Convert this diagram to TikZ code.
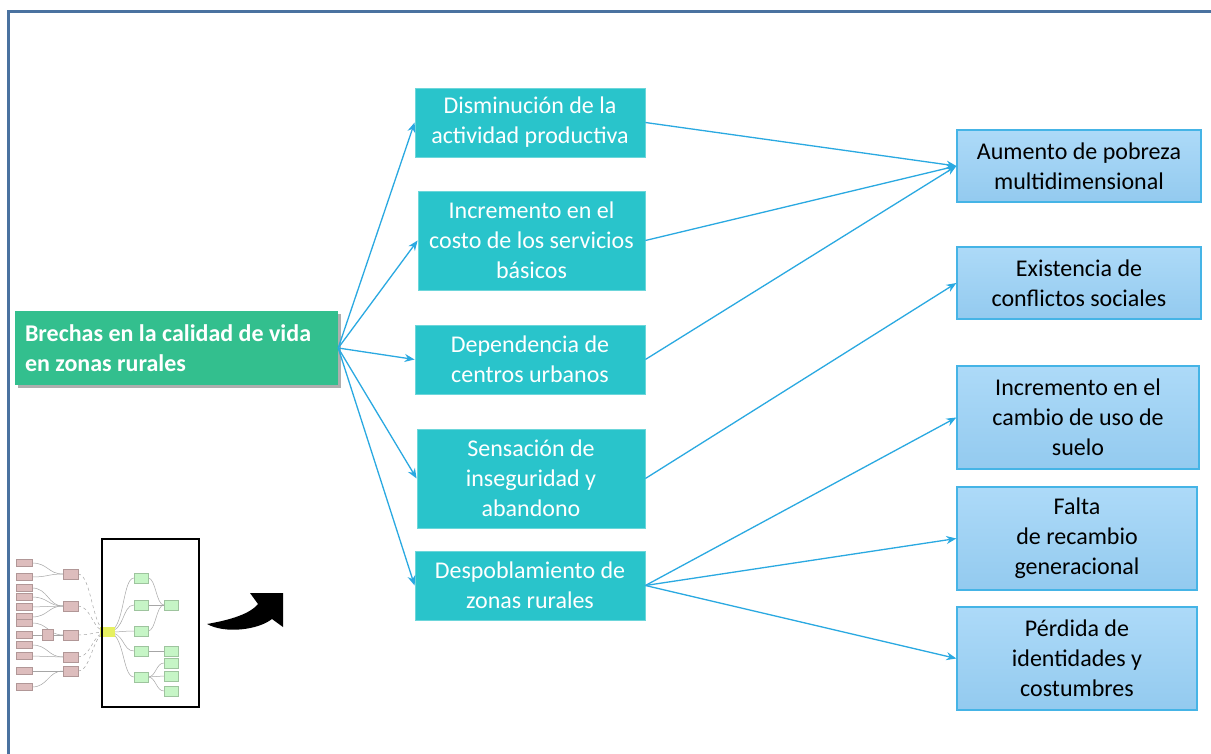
\documentclass[tikz,border=0pt]{standalone}
\usepackage{fontspec}
\setmainfont{Carlito}
\usetikzlibrary{arrows.meta,shadows}
\definecolor{framec}{HTML}{4A72A0}
\definecolor{rootc}{HTML}{33BF8E}
\definecolor{midc}{HTML}{29C4CB}
\definecolor{midb}{HTML}{6CD6DA}
\definecolor{rtop}{HTML}{ADDAF8}
\definecolor{rbot}{HTML}{93CAEF}
\definecolor{rbord}{HTML}{45B4E6}
\definecolor{arrc}{HTML}{2AA9E1}
\definecolor{pinkc}{HTML}{DDBDBD}
\definecolor{greenc}{HTML}{C6F5C6}
\definecolor{yelc}{HTML}{E6F060}
\tikzset{
  txt/.style={font=\fontsize{24}{30}\selectfont, align=center, inner sep=0pt},
  rootbox/.style={fill=rootc, text=white, font=\bfseries\fontsize{24}{30}\selectfont,
    text width=303pt, align=flush left, inner xsep=10pt, minimum height=74pt,
    drop shadow={shadow xshift=3pt, shadow yshift=-3pt, opacity=0.45, fill=black!70}},
  midbox/.style={txt, fill=midc, draw=midb, line width=0.8pt, text=white},
  rbox/.style={txt, top color=rtop, bottom color=rbot, draw=rbord, line width=1.3pt, text=black},
  arr/.style={draw=arrc, line width=1.3pt, -{Stealth[length=10pt,width=8pt]}},
  thumbp/.style={fill=pinkc, draw=pinkc!80!black, line width=0.3pt},
  thumbg/.style={fill=greenc, draw=greenc!80!black, line width=0.3pt},
  thumbl/.style={draw=gray!70, line width=0.5pt},
}
\begin{document}
\begin{tikzpicture}[x=1pt,y=-1pt]
\useasboundingbox (0,0) rectangle (1211,754);
\fill[white] (0,0) rectangle (1211,754);
\draw[framec, line width=3pt] (8,754) -- (8,12) -- (1211,12);

% root
\node[rootbox] (root) at (176.5,348) {Brechas en la calidad de vida\\en zonas rurales};

% middle column
\node[midbox, minimum width=230pt, minimum height=69pt] (m1) at (530,122.5) {Disminución de la\\actividad productiva};
\node[midbox, minimum width=227pt, minimum height=99pt] (m2) at (531.5,240.5) {Incremento en el\\costo de los servicios\\básicos};
\node[midbox, minimum width=230pt, minimum height=69pt] (m3) at (530,359.5) {Dependencia de\\centros urbanos};
\node[midbox, minimum width=228pt, minimum height=99pt] (m4) at (531,478.5) {Sensación de\\inseguridad y\\abandono};
\node[midbox, minimum width=230pt, minimum height=69pt] (m5) at (530,585.5) {Despoblamiento de\\zonas rurales};

% right column
\node[rbox, minimum width=244pt, minimum height=72pt] (r1) at (1079,166) {Aumento de pobreza\\multidimensional};
\node[rbox, minimum width=244pt, minimum height=72pt] (r2) at (1079,283) {Existencia de\\conflictos sociales};
\node[rbox, minimum width=242pt, minimum height=103pt] (r3) at (1078,417.5) {Incremento en el\\cambio de uso de\\suelo};
\node[rbox, minimum width=240pt, minimum height=103pt] (r4) at (1077,538.5) {Falta\\de recambio\\generacional};
\node[rbox, minimum width=240pt, minimum height=103pt] (r5) at (1077,658.5) {Pérdida de\\identidades y\\costumbres};

% connectors
\foreach \m in {m1,m2,m3,m4,m5} \draw[arr] (root.east) -- (\m.west);
\draw[arr] (m1.east) -- (r1.west);
\draw[arr] (m2.east) -- (r1.west);
\draw[arr] (m3.east) -- (r1.west);
\draw[arr] (m4.east) -- (r2.west);
\draw[arr] (m5.east) -- (r3.west);
\draw[arr] (m5.east) -- (r4.west);
\draw[arr] (m5.east) -- (r5.west);

% thumbnail (left pink part)
\coordinate (ty) at (107.5,632);
\foreach \y in {574,606,635,657,671} {
  \draw[thumbl, dashed] (78,\y) .. controls (92,\y) and (92,632) .. (ty);
}
\foreach \y/\t in {563/574,577/574,588/606,597/606,607/606,617/606,623/635,635/635,645/657,656/657,671/671,687/671} {
  \draw[thumbl] (32,\y) .. controls (48,\y) and (48,\t) .. (63,\t);
}
\foreach \y in {563,577,588,597,607,617,623,635,645,656,671,687} {
  \fill[thumbp] (16,\y-3.5) rectangle (32,\y+3.5);
}
\foreach \y in {574,606,635,657,671} {
  \fill[thumbp] (63,\y-5) rectangle (78,\y+5);
}
\fill[thumbp] (42,629) rectangle (53,640);
% right green part
\foreach \y in {578,605,631,651,677} {
  \draw[thumbl] (ty) .. controls (125,632) and (122,\y) .. (134,\y);
}
\foreach \a/\b in {578/605,605/605,631/605,651/651,677/663,677/676,677/691} {
  \draw[thumbl] (148,\a) .. controls (156,\a) and (156,\b) .. (164,\b);
}
\foreach \y in {578,605,631,651,677} {
  \fill[thumbg] (134,\y-5) rectangle (148,\y+5);
}
\foreach \y in {605,651,663,676,691} {
  \fill[thumbg] (164,\y-5) rectangle (178,\y+5);
}
\fill[yelc] (100,627) rectangle (115,637);
\node[draw=black, line width=2pt, minimum width=97pt, minimum height=168pt, inner sep=0pt] (thumb) at (150.5,623) {};

% curved black arrow
\fill[black] (207,624) .. controls (230,620) and (250,614) .. (258,604) -- (250,593) -- (283,593) -- (283,627) -- (272,619) .. controls (258,630) and (225,634) .. (207,624) -- cycle;
\end{tikzpicture}
\end{document}
